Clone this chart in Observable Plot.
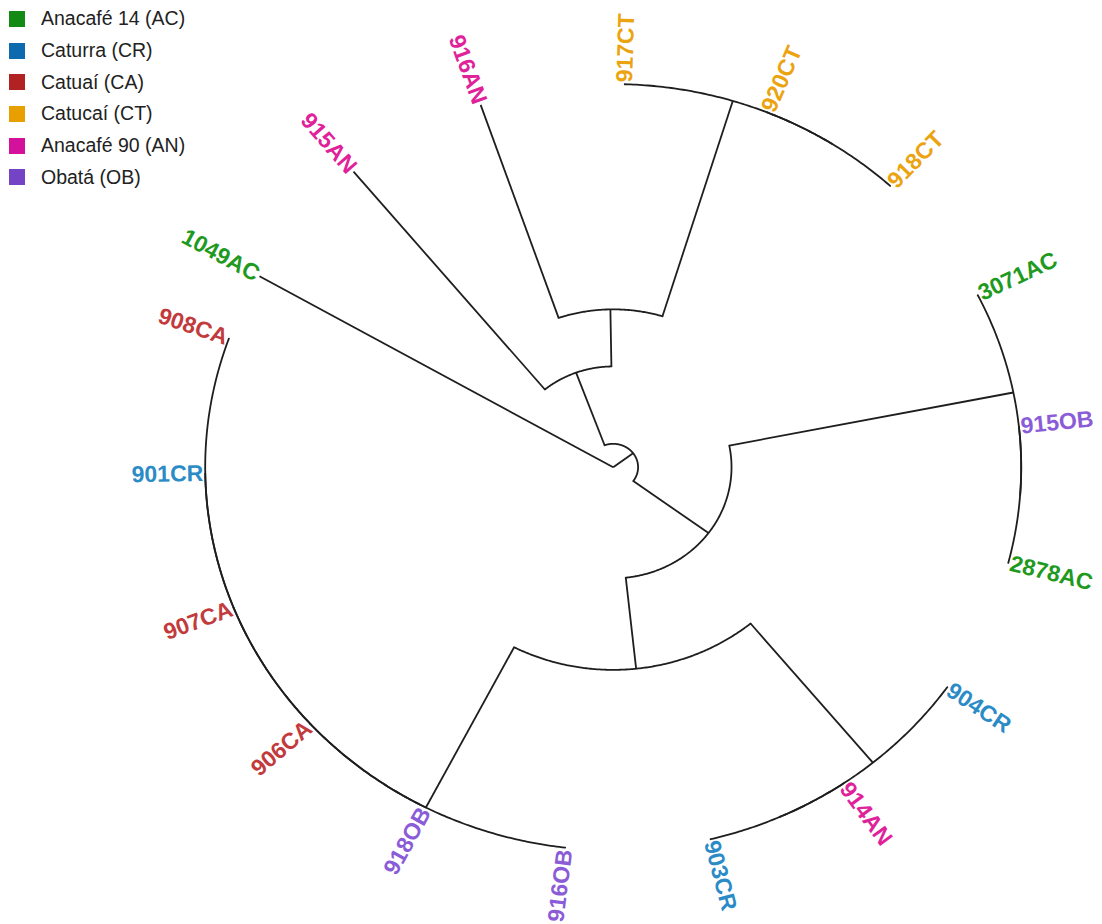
<!DOCTYPE html>
<html><head><meta charset="utf-8">
<script src="https://cdn.jsdelivr.net/npm/d3@7"></script>
<script src="https://cdn.jsdelivr.net/npm/@observablehq/plot@0.6"></script>
<style>
html,body{margin:0;padding:0;background:#fff;}
#wrap{position:relative;width:1102px;height:924px;overflow:hidden;}
#legend{position:absolute;left:9px;top:3px;}
.lg-swatches{font-family:"Liberation Sans",Arial,sans-serif;font-size:19.5px;color:#222;margin:0;}
.lg-swatches .lg-swatch{height:31.7px;padding:0;display:flex;align-items:center;}
.lg-swatch > svg{margin-right:16px;}
</style></head><body>
<div id="wrap"><div id="chart"></div><div id="legend"></div></div>
<script>
// ---- data ----
const tipLabels  = ["1049AC","915AN","916AN","917CT","920CT","918CT","3071AC","915OB","2878AC","904CR","914AN","903CR","916OB","918OB","906CA","907CA","901CR","908CA"];
const tipGroups  = ["AC","AN","AN","CT","CT","CT","AC","OB","AC","CR","AN","CR","OB","OB","CA","CA","CR","CA"];
const tipParents = ["root","N2","N1","CT","CT2","CT2","RN","RN2","RN2","N6","N6b","N6b","N5","N5a","N5b","N5c","N5c","N5c"];
const nodeIds     = ["root","M","N2","N1","CT","CT2","N3","RN","RN2","N4","N6","N6b","N5","N5a","N5b","N5c"];
const nodeParents = [null,"root","M","N2","N1","CT","M","N3","RN","N3","N4","N6","N4","N5","N5a","N5b"];
const nodeHeights = [1,0.939,0.737,0.588,0,0,0.710,0,0,0.471,0,0,0,0,0,0];
const groupCodes   = ["AC","CR","CA","CT","AN","OB"];
const groupNames   = ["Anacafé 14 (AC)","Caturra (CR)","Catuaí (CA)","Catucaí (CT)","Anacafé 90 (AN)","Obatá (OB)"];
const legendColors = ["#138a13","#0e6aae","#b22222","#e8a000","#d4119b","#7443c6"];
const labelColors  = ["#1f9a1f","#2b8bc6","#c23a3c","#eba30f","#e0229a","#8a5cd8"];

// ---- layout ----
const W = 1102, H = 924, CX = 612.7, CY = 466.7, RX = 408, RY = 383.1;
const theta0 = 209.9, span = 360 / (tipLabels.length - 0.5);
const nodes = new Map();
nodeIds.forEach((id, i) => nodes.set(id, {id, parent: nodeParents[i], height: nodeHeights[i], children: [], tip: false}));
tipLabels.forEach((lab, i) => nodes.set(lab, {id: lab, parent: tipParents[i], height: 0, children: [], tip: true, k: i, group: tipGroups[i]}));
for (const n of nodes.values()) if (n.parent) nodes.get(n.parent).children.push(n);
const rootH = nodes.get("root").height;
function setK(n) { if (n.tip) return n.k; n.k = d3.mean(n.children, setK); return n.k; }
setK(nodes.get("root"));
for (const n of nodes.values()) n.r = 1 - n.height / rootH;
const ang = k => (theta0 + k * span) * Math.PI / 180;
const px = (r, k) => r * Math.cos(ang(k));
const py = (r, k) => r * Math.sin(ang(k));

const edges = [...nodes.values()].filter(n => n.parent).map(n => {
  const p = nodes.get(n.parent);
  return {x1: px(p.r, n.k), y1: py(p.r, n.k), x2: px(n.r, n.k), y2: py(n.r, n.k)};
});
const arcs = [];
for (const n of nodes.values()) {
  if (n.tip || n.r <= 0) continue;
  const ks = n.children.map(c => c.k);
  const a = d3.min(ks), b = d3.max(ks);
  const steps = Math.max(2, Math.ceil((b - a) / 0.02));
  for (let i = 0; i <= steps; i++) {
    const k = a + (b - a) * i / steps;
    arcs.push({id: n.id, x: px(n.r, k), y: py(n.r, k)});
  }
}
const labels = [...nodes.values()].filter(n => n.tip).map(t => {
  const r = 1 + 2 / RX, a = ang(t.k);
  const phi = Math.atan2(RY * Math.sin(a), RX * Math.cos(a)) * 180 / Math.PI;
  const right = Math.cos(a) >= 0;
  return {label: t.id, group: t.group, x: px(r, t.k), y: py(r, t.k), rotate: right ? phi : phi - 180, right};
});

const textOpts = {x: "x", y: "y", text: "label", rotate: "rotate", fill: "group", fontSize: 23, fontWeight: "bold", fontFamily: "Liberation Sans, Arial, sans-serif", lineAnchor: "middle"};
const chart = Plot.plot({
  width: W, height: H, margin: 0,
  x: {axis: null, domain: [-CX / RX, (W - CX) / RX]},
  y: {axis: null, domain: [-CY / RY, (H - CY) / RY], range: [0, H]},
  color: {domain: groupCodes, range: labelColors},
  style: {background: "white"},
  marks: [
    Plot.link(edges, {x1: "x1", y1: "y1", x2: "x2", y2: "y2", stroke: "#1e1e1e", strokeWidth: 1.8}),
    Plot.line(arcs, {x: "x", y: "y", z: "id", stroke: "#1e1e1e", strokeWidth: 1.8}),
    Plot.text(labels.filter(d => d.right), {...textOpts, textAnchor: "start"}),
    Plot.text(labels.filter(d => !d.right), {...textOpts, textAnchor: "end"})
  ]
});
document.getElementById("chart").appendChild(chart);
const leg = Plot.legend({color: {type: "ordinal", legend: "swatches", domain: groupNames, range: legendColors}, columns: 1, swatchSize: 16, className: "lg"});
document.getElementById("legend").appendChild(leg);
</script>
</body></html>
